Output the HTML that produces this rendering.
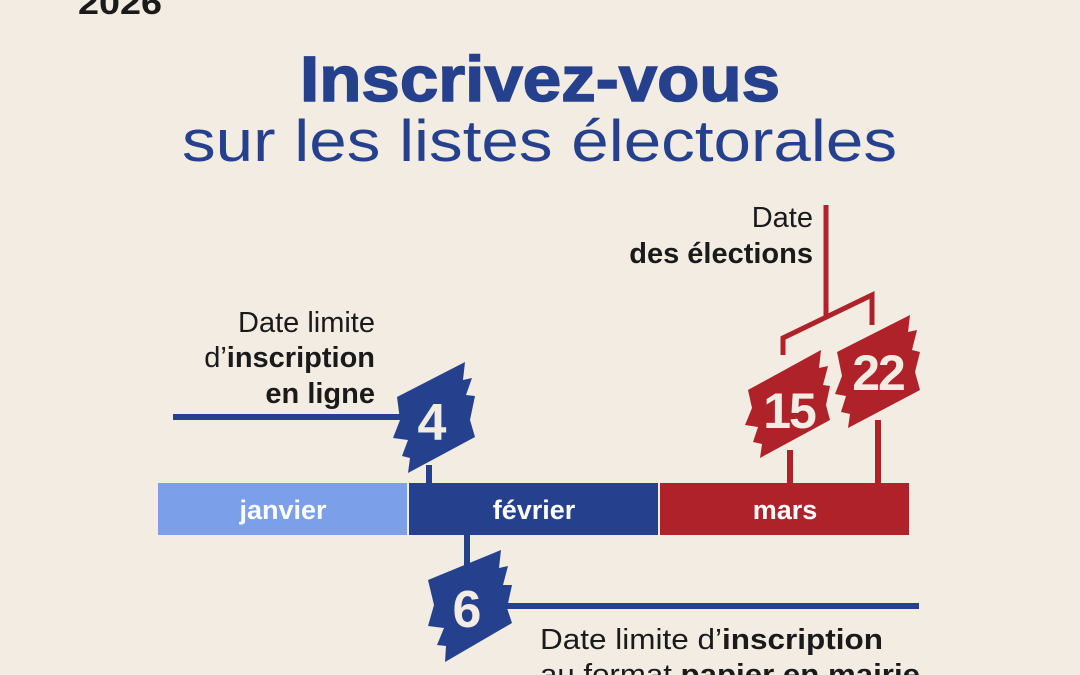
<!DOCTYPE html>
<html><head><meta charset="utf-8"><style>
html,body{margin:0;padding:0;background:#f3ece3;width:1080px;height:675px;overflow:hidden}
svg{display:block}
text{font-family:"Liberation Sans",sans-serif}
</style></head><body>
<svg width="1080" height="675" viewBox="0 0 1080 675" xmlns="http://www.w3.org/2000/svg">
<rect width="1080" height="675" fill="#f3ece3"/>
<text x="78" y="14" font-size="32" font-weight="bold" fill="#1a1a1a" textLength="84" lengthAdjust="spacingAndGlyphs">2026</text>
<text x="300" y="101" font-size="64" font-weight="bold" fill="#25418e" stroke="#25418e" stroke-width="1.5" textLength="480" lengthAdjust="spacingAndGlyphs">Inscrivez-vous</text>
<text x="182" y="161" font-size="58" fill="#25418e" textLength="715" lengthAdjust="spacingAndGlyphs">sur les listes électorales</text>

<!-- bar -->
<rect x="158" y="483" width="249" height="52" fill="#7b9fe8"/>
<rect x="409" y="483" width="249" height="52" fill="#25418e"/>
<rect x="660" y="483" width="249" height="52" fill="#b0222a"/>
<g font-size="27" font-weight="bold" fill="#fff" text-anchor="middle">
<text x="283" y="519">janvier</text>
<text x="534" y="519">février</text>
<text x="785" y="519">mars</text>
</g>

<!-- 4 -->
<line x1="173" y1="417" x2="400" y2="417" stroke="#25418e" stroke-width="6"/>
<line x1="429" y1="465" x2="429" y2="485" stroke="#25418e" stroke-width="6"/>
<polygon points="397,397 465,362 463,380 472,378 466,395 475,396 470,420 475,437 408,473 410,458 402,456 408,440 393,438 400,420" fill="#25418e"/>
<text x="432" y="440" text-anchor="middle" font-size="52" font-weight="bold" fill="#f3ece3">4</text>

<!-- 6 -->
<line x1="467" y1="533" x2="467" y2="570" stroke="#25418e" stroke-width="6"/>
<line x1="505" y1="606" x2="919" y2="606" stroke="#25418e" stroke-width="6"/>
<polygon points="428,580 501,550 499,568 508,566 503,585 512,585 507,608 512,623 445,662 446,646 437,645 444,628 428,626 434,605" fill="#25418e"/>
<text x="467" y="627" text-anchor="middle" font-size="52" font-weight="bold" fill="#f3ece3">6</text>

<!-- 15 / 22 -->
<line x1="826" y1="205" x2="826" y2="316" stroke="#b0222a" stroke-width="5"/>
<polyline points="783,355 783,338 872,295 872,325" fill="none" stroke="#b0222a" stroke-width="5"/>
<line x1="790" y1="450" x2="790" y2="485" stroke="#b0222a" stroke-width="6"/>
<line x1="878" y1="420" x2="878" y2="485" stroke="#b0222a" stroke-width="6"/>
<polygon points="748,390 821,350 819,368 828,366 823,385 830,386 826,405 830,420 760,458 762,444 753,442 758,427 745,425 752,408" fill="#b0222a"/>
<text x="789" y="428" text-anchor="middle" font-size="50" font-weight="bold" fill="#f3ece3" letter-spacing="-2">15</text>
<polygon points="837,352 910,315 908,332 917,330 912,350 920,352 915,372 920,390 848,428 850,414 841,412 846,396 835,394 842,376" fill="#b0222a"/>
<text x="878" y="390" text-anchor="middle" font-size="50" font-weight="bold" fill="#f3ece3" letter-spacing="-2">22</text>

<!-- labels -->
<g font-size="29" fill="#1a1a1a" text-anchor="end">
<text x="375" y="332">Date limite</text>
<text x="375" y="367">d’<tspan font-weight="bold">inscription</tspan></text>
<text x="375" y="403" font-weight="bold">en ligne</text>
<text x="813" y="227">Date</text>
<text x="813" y="263" font-weight="bold">des élections</text>
</g>
<g font-size="29" fill="#1a1a1a">
<text x="540" y="649" textLength="343" lengthAdjust="spacingAndGlyphs">Date limite d’<tspan font-weight="bold">inscription</tspan></text>
<text x="540" y="684" textLength="380" lengthAdjust="spacingAndGlyphs">au format <tspan font-weight="bold">papier en mairie</tspan></text>
</g>
</svg>
</body></html>
